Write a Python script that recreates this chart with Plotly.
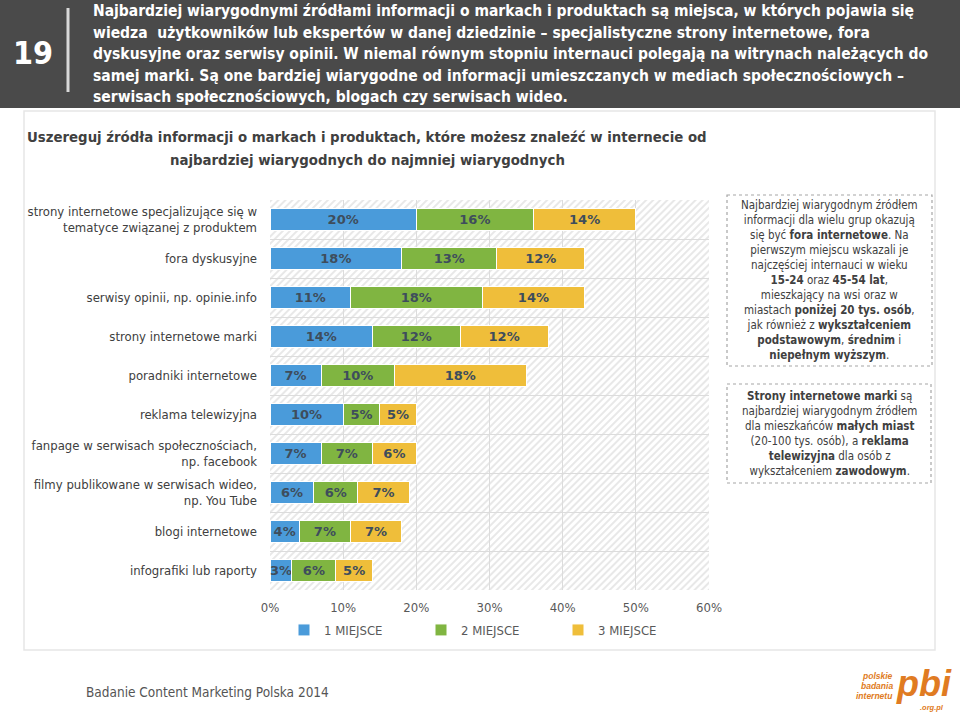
import base64
import plotly.graph_objects as go

categories = [
    "strony internetowe specjalizujące się w<br>tematyce związanej z produktem",
    "fora dyskusyjne",
    "serwisy opinii, np. opinie.info",
    "strony internetowe marki",
    "poradniki internetowe",
    "reklama telewizyjna",
    "fanpage w serwisach społecznościach,<br>np. facebook",
    "filmy publikowane w serwisach wideo,<br>np. You Tube",
    "blogi internetowe",
    "infografiki lub raporty",
]
miejsce1 = [20, 18, 11, 14, 7, 10, 7, 6, 4, 3]
miejsce2 = [16, 13, 18, 12, 10, 5, 7, 6, 7, 6]
miejsce3 = [14, 12, 14, 12, 18, 5, 6, 7, 7, 5]
series_names = ["1 MIEJSCE", "2 MIEJSCE", "3 MIEJSCE"]
x_ticks = [0, 10, 20, 30, 40, 50, 60]
x_tick_labels = ["0%", "10%", "20%", "30%", "40%", "50%", "60%"]

colors = ["#4a9bda", "#80b541", "#efbe3a"]

# plot area in pixels
L, R, T, B = 270, 709, 200, 590
W, H = 960, 715

COND = "DejaVu Sans Condensed, DejaVu Sans, sans-serif"


def fx(x):
    return (x - L) / (R - L)


def fy(y):
    return (B - y) / (B - T)


fig = go.Figure()
for name, vals, col in zip(series_names, [miejsce1, miejsce2, miejsce3], colors):
    fig.add_trace(go.Bar(
        y=categories, x=vals, name=name, orientation="h",
        marker=dict(color=col, line=dict(color="white", width=1)),
        text=[f"{v}%" for v in vals], textposition="inside", textangle=0,
        insidetextanchor="middle", constraintext="none",
        textfont=dict(family="DejaVu Sans", size=13, color="#3e4d5c", weight="bold"),
        hoverinfo="skip",
    ))

# hatched background
svg = (
    '<svg xmlns="http://www.w3.org/2000/svg" width="439" height="390">'
    '<defs><pattern id="p" width="5" height="5" patternUnits="userSpaceOnUse" '
    'patternTransform="rotate(45)">'
    '<rect width="5" height="5" fill="#ffffff"/>'
    '<rect width="2" height="5" fill="#e8e8e8"/></pattern></defs>'
    '<rect width="439" height="390" fill="url(#p)"/></svg>'
)
src = "data:image/svg+xml;base64," + base64.b64encode(svg.encode()).decode()

shapes = [
    dict(type="rect", xref="paper", yref="paper", x0=fx(0), x1=fx(960), y0=fy(0), y1=fy(108),
         fillcolor="#4a4a4a", line=dict(width=0), layer="below"),
    dict(type="line", xref="paper", yref="paper", x0=fx(68), x1=fx(68), y0=fy(8), y1=fy(92),
         line=dict(color="#d8d8d8", width=3), layer="below"),
    dict(type="rect", xref="paper", yref="paper", x0=fx(24), x1=fx(935), y0=fy(111), y1=fy(650),
         line=dict(color="#e6e6e6", width=1.5), layer="below"),
    dict(type="rect", xref="paper", yref="paper", x0=fx(727), x1=fx(932), y0=fy(195), y1=fy(366),
         line=dict(color="#a6a6a6", width=1.2, dash="dot"), layer="below"),
    dict(type="rect", xref="paper", yref="paper", x0=fx(727), x1=fx(931), y0=fy(384), y1=fy(483),
         line=dict(color="#a6a6a6", width=1.2, dash="dot"), layer="below"),
]

head_font = dict(family=COND, size=15.5, color="white", weight="bold")
header_lines = [
    "Najbardziej wiarygodnymi źródłami informacji o markach i produktach są miejsca, w których pojawia się",
    "wiedza  użytkowników lub ekspertów w danej dziedzinie – specjalistyczne strony internetowe, fora",
    "dyskusyjne oraz serwisy opinii. W niemal równym stopniu internauci polegają na witrynach należących do",
    "samej marki. Są one bardziej wiarygodne od informacji umieszczanych w mediach społecznościowych –",
    "serwisach społecznościowych, blogach czy serwisach wideo.",
]
header_y = [11, 32.5, 54, 75.5, 97]

ann = []
for txt, yy in zip(header_lines, header_y):
    ann.append(dict(text=txt, x=fx(91), y=fy(yy), xref="paper", yref="paper",
                    xanchor="left", yanchor="middle", showarrow=False, font=head_font))
ann.append(dict(text="19", x=fx(33), y=fy(53), xref="paper", yref="paper",
                xanchor="center", yanchor="middle", showarrow=False,
                font=dict(family=COND, size=32, color="white", weight="bold")))

q_font = dict(family=COND, size=14.8, color="#404040", weight="bold")
ann.append(dict(text="Uszereguj źródła informacji o markach i produktach, które możesz znaleźć w internecie od",
                x=fx(367), y=fy(137), xref="paper", yref="paper", xanchor="center",
                yanchor="middle", showarrow=False, font=q_font))
ann.append(dict(text="najbardziej wiarygodnych do najmniej wiarygodnych",
                x=fx(367), y=fy(160), xref="paper", yref="paper", xanchor="center",
                yanchor="middle", showarrow=False, font=q_font))

box_font = dict(family=COND, size=11.5, color="#404040")
box1 = ("Najbardziej wiarygodnym źródłem<br>informacji dla wielu grup okazują<br>"
        "się być <b>fora internetowe</b>. Na<br>pierwszym miejscu wskazali je<br>"
        "najczęściej internauci w wieku<br><b>15-24</b> oraz <b>45-54 lat</b>,<br>"
        "mieszkający na wsi oraz w<br>miastach <b>poniżej 20 tys. osób</b>,<br>"
        "jak również z <b>wykształceniem</b><br><b>podstawowym</b>, <b>średnim</b> i<br>"
        "<b>niepełnym wyższym</b>.")
box2 = ("<b>Strony internetowe marki</b> są<br>najbardziej wiarygodnym źródłem<br>"
        "dla mieszkańców <b>małych miast</b><br>(20-100 tys. osób), a <b>reklama</b><br>"
        "<b>telewizyjna</b> dla osób z<br>wykształceniem <b>zawodowym</b>.")
ann.append(dict(text=box1, x=fx(829.5), y=fy(280), xref="paper", yref="paper",
                xanchor="center", yanchor="middle", showarrow=False, align="center", font=box_font))
ann.append(dict(text=box2, x=fx(829.5), y=fy(433.5), xref="paper", yref="paper",
                xanchor="center", yanchor="middle", showarrow=False, align="center", font=box_font))

ann.append(dict(text="Badanie Content Marketing Polska 2014", x=fx(84), y=fy(692),
                xref="paper", yref="paper", xanchor="left", yanchor="middle", showarrow=False,
                font=dict(family=COND, size=13.5, color="#555555")))
# logo
orange = "#e07b22"
for t, yy in zip(["polskie", "badania", "internetu"], [676, 686, 696]):
    ann.append(dict(text=f"<i><b>{t}</b></i>", x=fx(895), y=fy(yy), xref="paper", yref="paper",
                    xanchor="right", yanchor="middle", showarrow=False,
                    font=dict(family="Liberation Sans", size=8.5, color=orange)))
ann.append(dict(text="<i><b>pbi</b></i>", x=fx(894), y=fy(683), xref="paper", yref="paper",
                xanchor="left", yanchor="middle", showarrow=False,
                font=dict(family="Liberation Sans", size=36, color=orange)))
ann.append(dict(text="<i><b>.org.pl</b></i>", x=fx(946), y=fy(707), xref="paper", yref="paper",
                xanchor="right", yanchor="middle", showarrow=False,
                font=dict(family="Liberation Sans", size=7.5, color=orange)))

fig.update_layout(
    barmode="stack",
    bargap=0.43,
    width=W, height=H,
    margin=dict(l=L, r=W - R, t=T, b=H - B, pad=0),
    paper_bgcolor="white",
    plot_bgcolor="white",
    images=[dict(source=src, xref="paper", yref="paper", x=0, y=1, sizex=1, sizey=1,
                 xanchor="left", yanchor="top", sizing="stretch", layer="below")],
    shapes=shapes,
    annotations=ann,
    showlegend=True,
    legend=dict(orientation="h", x=0.5, xanchor="center", y=fy(630), yanchor="middle",
                font=dict(family=COND, size=13, color="#595959"),
                entrywidth=92, itemwidth=30, traceorder="normal", bgcolor="rgba(0,0,0,0)"),
    xaxis=dict(range=[0, 60], tickvals=x_ticks, ticktext=x_tick_labels,
               showgrid=True, gridcolor="#dcdcdc", gridwidth=1, zeroline=False,
               showline=False, ticks="", ticklabelstandoff=8,
               tickfont=dict(family=COND, size=13, color="#595959")),
    yaxis=dict(autorange="reversed", showgrid=True, gridcolor="#dcdcdc", gridwidth=1,
               tickson="boundaries", ticks="", showline=False, ticklabelstandoff=12,
               tickfont=dict(family=COND, size=13, color="#404040")),
    font=dict(family="DejaVu Sans"),
)

fig.write_html("out.html", config={"displayModeBar": False},
               post_script="document.body.style.margin='0';document.body.style.overflow='hidden';")
